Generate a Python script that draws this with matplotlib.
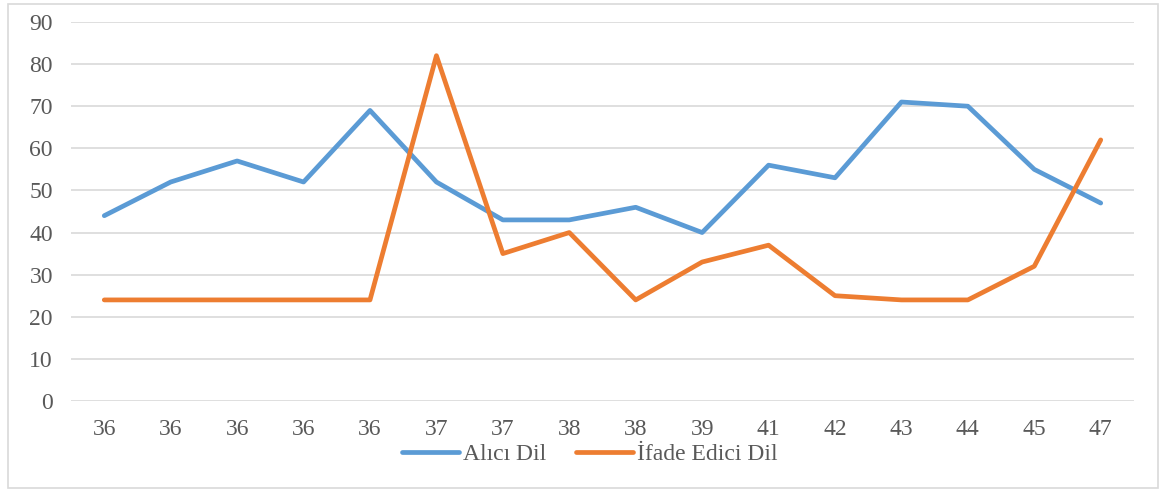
import matplotlib.pyplot as plt
from matplotlib.patches import Rectangle

# Chart data
categories = ["36", "36", "36", "36", "36", "37", "37", "38", "38",
              "39", "41", "42", "43", "44", "45", "47"]
alici_dil = [44, 52, 57, 52, 69, 52, 43, 43, 46, 40, 56, 53, 71, 70, 55, 47]
ifade_edici_dil = [24, 24, 24, 24, 24, 82, 35, 40, 24, 33, 37, 25, 24, 24, 32, 62]

plt.rcParams['font.family'] = ['Liberation Serif', 'DejaVu Serif']

fig = plt.figure(figsize=(11.61, 4.92), dpi=100)
ax = fig.add_axes([0.0612, 0.185, 0.9155, 0.7703])

x = range(len(categories))
ax.plot(x, alici_dil, color="#5B9BD5", linewidth=3.4, label="Alıcı Dil",
        solid_capstyle="round", solid_joinstyle="round")
ax.plot(x, ifade_edici_dil, color="#ED7D31", linewidth=3.4, label="İfade Edici Dil",
        solid_capstyle="round", solid_joinstyle="round")

ax.set_xlim(-0.5, len(categories) - 0.5)
ax.set_ylim(0, 90)
ax.set_yticks(range(0, 91, 10))
ax.set_xticks(list(x))
ax.set_xticklabels(categories)

ax.grid(axis='y', color="#D9D9D9", linewidth=1.2)
ax.set_axisbelow(True)
for side in ["top", "right", "left", "bottom"]:
    ax.spines[side].set_visible(False)
ax.tick_params(axis='both', length=0, labelsize=17, colors="#595959")
ax.tick_params(axis='y', pad=13)
ax.tick_params(axis='x', pad=13)

fig.legend(loc="center", bbox_to_anchor=(0.508, 0.077), ncol=2, frameon=False,
           fontsize=17, labelcolor="#595959", handlelength=2.4,
           handletextpad=0.15, columnspacing=1.3)

# outer chart border
fig.patches.append(Rectangle((8 / 1161, 4 / 492), 1150 / 1161, 484 / 492,
                             transform=fig.transFigure, fill=False,
                             edgecolor="#D9D9D9", linewidth=1.2))

fig.savefig("out.png", dpi=100)
